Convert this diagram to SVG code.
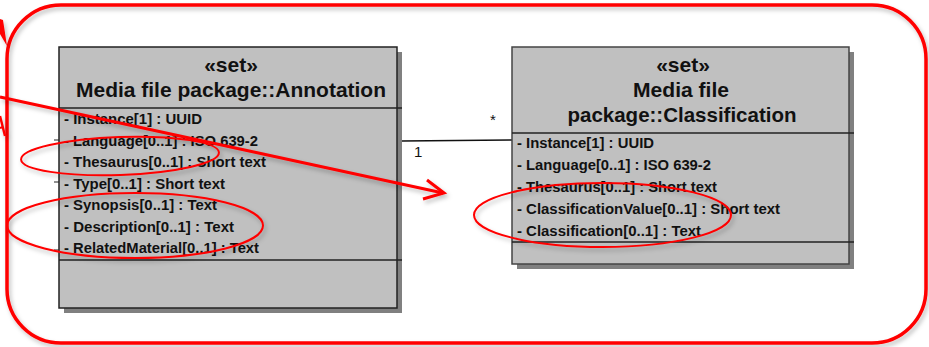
<svg xmlns="http://www.w3.org/2000/svg" width="929" height="347" viewBox="0 0 929 347">
<style>
.box{fill:#c0c0c0;stroke:#222;stroke-width:1.5}
.shadow{fill:#808080}
.div{stroke:#222;stroke-width:1.3}
.hdr{font-family:"Liberation Sans",Arial,sans-serif;font-weight:bold;fill:#111;text-anchor:middle}
.attr{font-family:"Liberation Sans",Arial,sans-serif;font-weight:bold;font-size:14px;fill:#111}
.lbl{font-family:"Liberation Sans",Arial,sans-serif;font-size:15px;fill:#111}
.conn{stroke:#111;stroke-width:1.4;fill:none}
.red{stroke:#ff0000;fill:none}
</style>
<defs>
<filter id="ds" x="-10%" y="-10%" width="120%" height="130%">
<feDropShadow dx="2" dy="3" stdDeviation="2" flood-color="#000" flood-opacity="0.25"/>
</filter>
</defs>
<rect width="929" height="347" fill="#fff"/>

<g id="frame" filter="url(#ds)">
<rect x="7" y="5" width="919" height="338" rx="54" ry="54" class="red" stroke-width="3.5"/>
</g>

<g id="connectors">
<line x1="402" y1="141" x2="512" y2="140" class="conn"/>
<text x="414" y="157" class="lbl" font-size="16">1</text>
<text x="490" y="125" class="lbl">*</text>
<line x1="54" y1="140" x2="59" y2="140" stroke="#555" stroke-width="1.3"/>
<line x1="54" y1="182" x2="59" y2="182" stroke="#555" stroke-width="1.3"/>
<line x1="54" y1="250" x2="59" y2="250" stroke="#555" stroke-width="1.3"/>
</g>

<g id="annotation">
<rect x="64" y="52" width="338" height="261" class="shadow"/>
<rect x="59" y="47" width="338" height="261" class="box"/>
<line x1="59" y1="108" x2="402" y2="108" class="div"/>
<line x1="59" y1="260" x2="402" y2="260" class="div"/>
<text x="231" y="72" class="hdr" font-size="21">«set»</text>
<text x="231" y="97" class="hdr" font-size="21" textLength="310" lengthAdjust="spacingAndGlyphs">Media file package::Annotation</text>
<text x="64" y="124" class="attr" textLength="138" lengthAdjust="spacingAndGlyphs">- Instance[1] : UUID</text>
<text x="64" y="145.5" class="attr" textLength="194" lengthAdjust="spacingAndGlyphs">- Language[0..1] : ISO 639-2</text>
<text x="64" y="167" class="attr" textLength="202" lengthAdjust="spacingAndGlyphs">- Thesaurus[0..1] : Short text</text>
<text x="64" y="188.5" class="attr" textLength="161" lengthAdjust="spacingAndGlyphs">- Type[0..1] : Short text</text>
<text x="64" y="210" class="attr" textLength="153" lengthAdjust="spacingAndGlyphs">- Synopsis[0..1] : Text</text>
<text x="64" y="231.5" class="attr" textLength="170" lengthAdjust="spacingAndGlyphs">- Description[0..1] : Text</text>
<text x="64" y="253" class="attr" textLength="195" lengthAdjust="spacingAndGlyphs">- RelatedMaterial[0..1] : Text</text>
</g>

<g id="classification">
<rect x="517" y="52" width="337" height="217" class="shadow"/>
<rect x="512" y="47" width="337" height="217" class="box" style="stroke:#444"/>
<line x1="512" y1="133" x2="854" y2="133" class="div"/>
<line x1="512" y1="242" x2="854" y2="242" class="div"/>
<text x="683" y="72" class="hdr" font-size="21">«set»</text>
<text x="681" y="97" class="hdr" font-size="21" textLength="96" lengthAdjust="spacingAndGlyphs">Media file</text>
<text x="682" y="122" class="hdr" font-size="21" textLength="229" lengthAdjust="spacingAndGlyphs">package::Classification</text>
<text x="517" y="148" class="attr" textLength="137" lengthAdjust="spacingAndGlyphs">- Instance[1] : UUID</text>
<text x="517" y="170" class="attr" textLength="194" lengthAdjust="spacingAndGlyphs">- Language[0..1] : ISO 639-2</text>
<text x="517" y="192" class="attr" textLength="200" lengthAdjust="spacingAndGlyphs">- Thesaurus[0..1] : Short text</text>
<text x="517" y="213.5" class="attr" textLength="263" lengthAdjust="spacingAndGlyphs">- ClassificationValue[0..1] : Short text</text>
<text x="517" y="235.5" class="attr" textLength="184" lengthAdjust="spacingAndGlyphs">- Classification[0..1] : Text</text>
</g>

<g id="highlights" filter="url(#ds)">
<line x1="0" y1="97" x2="443" y2="193" class="red" stroke-width="3"/>
<polyline points="427,180 444,193 423,199" class="red" stroke-width="3" stroke-linejoin="miter"/>
<polygon points="0,19 3,20 7,46 0,34" fill="#ff0000"/>
<polyline points="0,116 5,136" class="red" stroke-width="2.5"/>
<line x1="0" y1="128" x2="3" y2="127" class="red" stroke-width="2"/>
<ellipse cx="120" cy="156" rx="99" ry="19" transform="rotate(-2 120 156)" class="red" stroke-width="2"/>
<ellipse cx="135" cy="225.5" rx="128" ry="32.5" class="red" stroke-width="2"/>
<ellipse cx="602.5" cy="215" rx="128.5" ry="32" class="red" stroke-width="2"/>
</g>
</svg>
